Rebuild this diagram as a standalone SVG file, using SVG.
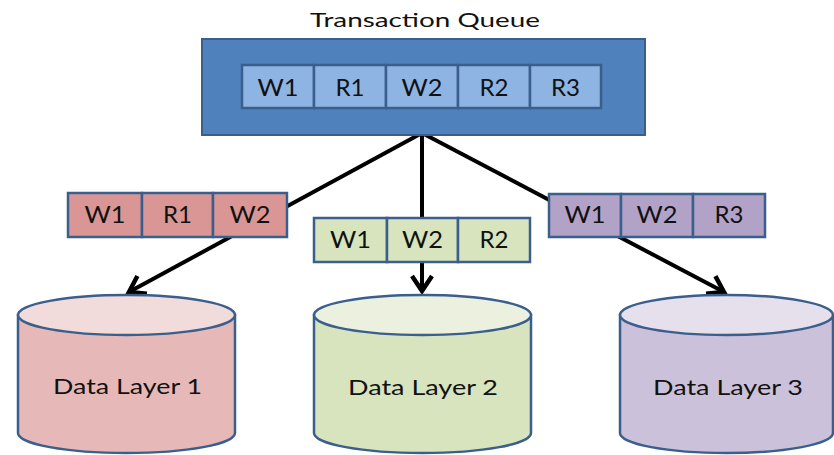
<svg xmlns="http://www.w3.org/2000/svg" width="834" height="455" viewBox="0 0 834 455">
<defs>
<style>
.t{font-family:Lato,"Open Sans","Liberation Sans",sans-serif;fill:#111;text-anchor:middle}
.cell{stroke:#3A5F8D;stroke-width:2.5}
.qc{fill:#8EB4E3}
.pk{fill:#D99694}
.gr{fill:#D7E4BD}
.pu{fill:#B3A2C7}
.cyl{stroke:#3A5F8D;stroke-width:2.5}
.con{stroke:#000;stroke-width:4;fill:none;marker-end:url(#arr)}
</style>
<marker id="arr" markerUnits="userSpaceOnUse" markerWidth="40" markerHeight="40" refX="0" refY="0" orient="auto" overflow="visible">
<path d="M-15,-10 L0,0 L-15,10" fill="none" stroke="#000" stroke-width="4.5" stroke-linejoin="miter"/>
</marker>
</defs>
<rect width="834" height="455" fill="#fff"/>

<g id="connectors">
<path class="con" d="M422,133 L129,292"/>
<path class="con" d="M422,133 L422,291"/>
<path class="con" d="M422,133 L724,292"/>
</g>

<g id="title">
<text class="t" x="425" y="27" font-size="19" textLength="230" lengthAdjust="spacingAndGlyphs">Transaction Queue</text>
</g>

<g id="queue">
<rect x="202" y="39" width="443" height="96" fill="#4F81BD" stroke="#3A5F8D" stroke-width="2"/>
<rect class="cell qc" x="242" y="65" width="72" height="43"/>
<rect class="cell qc" x="314" y="65" width="72" height="43"/>
<rect class="cell qc" x="386" y="65" width="72" height="43"/>
<rect class="cell qc" x="458" y="65" width="72" height="43"/>
<rect class="cell qc" x="530" y="65" width="71" height="43"/>
<text class="t" x="278" y="96" font-size="24" textLength="41" lengthAdjust="spacingAndGlyphs">W1</text>
<text class="t" x="350" y="96" font-size="24" textLength="29" lengthAdjust="spacingAndGlyphs">R1</text>
<text class="t" x="422" y="96" font-size="24" textLength="41" lengthAdjust="spacingAndGlyphs">W2</text>
<text class="t" x="494" y="96" font-size="24" textLength="29" lengthAdjust="spacingAndGlyphs">R2</text>
<text class="t" x="565.5" y="96" font-size="24" textLength="29" lengthAdjust="spacingAndGlyphs">R3</text>
</g>

<g id="batch1">
<rect class="cell pk" x="68" y="193" width="74" height="44"/>
<rect class="cell pk" x="142" y="193" width="71" height="44"/>
<rect class="cell pk" x="213" y="193" width="74" height="44"/>
<text class="t" x="105" y="223" font-size="24" textLength="41" lengthAdjust="spacingAndGlyphs">W1</text>
<text class="t" x="177.5" y="223" font-size="24" textLength="29" lengthAdjust="spacingAndGlyphs">R1</text>
<text class="t" x="250" y="223" font-size="24" textLength="41" lengthAdjust="spacingAndGlyphs">W2</text>
</g>

<g id="batch2">
<rect class="cell gr" x="314" y="218" width="73" height="44"/>
<rect class="cell gr" x="387" y="218" width="71" height="44"/>
<rect class="cell gr" x="458" y="218" width="72" height="44"/>
<text class="t" x="350.5" y="248" font-size="24" textLength="41" lengthAdjust="spacingAndGlyphs">W1</text>
<text class="t" x="422.5" y="248" font-size="24" textLength="41" lengthAdjust="spacingAndGlyphs">W2</text>
<text class="t" x="494" y="248" font-size="24" textLength="29" lengthAdjust="spacingAndGlyphs">R2</text>
</g>

<g id="batch3">
<rect class="cell pu" x="549" y="194" width="72" height="43"/>
<rect class="cell pu" x="621" y="194" width="72" height="43"/>
<rect class="cell pu" x="693" y="194" width="72" height="43"/>
<text class="t" x="585" y="223" font-size="24" textLength="41" lengthAdjust="spacingAndGlyphs">W1</text>
<text class="t" x="657" y="223" font-size="24" textLength="41" lengthAdjust="spacingAndGlyphs">W2</text>
<text class="t" x="729" y="223" font-size="24" textLength="29" lengthAdjust="spacingAndGlyphs">R3</text>
</g>

<g id="layer1">
<path class="cyl" d="M18,315 L18,433 A108.5,20 0 0 0 235,433 L235,315 Z" fill="#E6B9B8"/>
<ellipse class="cyl" cx="126.5" cy="315" rx="108.5" ry="20" fill="#F2DCDB"/>
<text class="t" x="127.5" y="394" font-size="22" textLength="149" lengthAdjust="spacingAndGlyphs">Data Layer 1</text>
</g>

<g id="layer2">
<path class="cyl" d="M314,315 L314,433 A108.5,20 0 0 0 531,433 L531,315 Z" fill="#D7E4BD"/>
<ellipse class="cyl" cx="422.5" cy="315" rx="108.5" ry="20" fill="#EBF1DE"/>
<text class="t" x="423" y="395" font-size="22" textLength="150" lengthAdjust="spacingAndGlyphs">Data Layer 2</text>
</g>

<g id="layer3">
<path class="cyl" d="M620,315 L620,433 A106.5,20 0 0 0 833,433 L833,315 Z" fill="#CCC1DA"/>
<ellipse class="cyl" cx="726.5" cy="315" rx="106.5" ry="20" fill="#E5E0EC"/>
<text class="t" x="728" y="395" font-size="22" textLength="150" lengthAdjust="spacingAndGlyphs">Data Layer 3</text>
</g>
</svg>
